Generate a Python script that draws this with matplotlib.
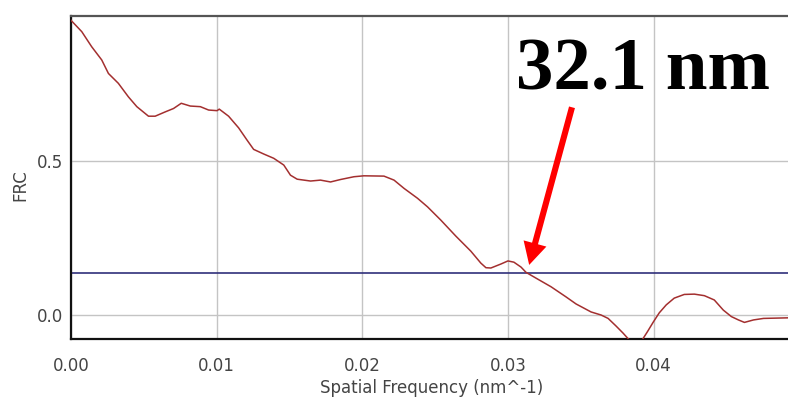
import matplotlib
matplotlib.use("Agg")
import matplotlib.pyplot as plt

# Fourier ring correlation curve
spatial_freq = [
    0.00000, 0.00074, 0.00142, 0.00211, 0.00257, 0.00325, 0.00394, 0.00452,
    0.00532, 0.00578, 0.00647, 0.00704, 0.00757, 0.00819, 0.00888, 0.00945,
    0.01003, 0.01018, 0.01082, 0.01151, 0.01209, 0.01254, 0.01323, 0.01392,
    0.01461, 0.01507, 0.01553, 0.01645, 0.01713, 0.01782, 0.01851, 0.01943,
    0.02011, 0.02149, 0.02218, 0.02287, 0.02379, 0.02448, 0.02539, 0.02642,
    0.02745, 0.02814, 0.02849, 0.02883, 0.02952, 0.03000, 0.03041, 0.03090,
    0.03124, 0.03193, 0.03296, 0.03399, 0.03468, 0.03571, 0.03640, 0.03688,
    0.03743, 0.03791, 0.03833, 0.03881, 0.03922, 0.03957, 0.03998, 0.04039,
    0.04087, 0.04142, 0.04211, 0.04280, 0.04349, 0.04417, 0.04479, 0.04534,
    0.04583, 0.04624, 0.04686, 0.04755, 0.04844, 0.04934,
]
frc = [
    0.958, 0.921, 0.872, 0.829, 0.785, 0.753, 0.709, 0.677,
    0.646, 0.646, 0.660, 0.671, 0.688, 0.679, 0.677, 0.666,
    0.664, 0.669, 0.646, 0.608, 0.568, 0.538, 0.523, 0.509,
    0.487, 0.454, 0.441, 0.435, 0.438, 0.432, 0.440, 0.449,
    0.452, 0.451, 0.438, 0.411, 0.379, 0.351, 0.308, 0.256,
    0.207, 0.168, 0.153, 0.152, 0.165, 0.175, 0.171, 0.155,
    0.138, 0.119, 0.091, 0.058, 0.035, 0.009, -0.001, -0.012,
    -0.037, -0.060, -0.082, -0.095, -0.082, -0.056, -0.024, 0.006,
    0.032, 0.054, 0.066, 0.067, 0.062, 0.048, 0.015, -0.006,
    -0.017, -0.025, -0.017, -0.012, -0.011, -0.010,
]
threshold = 0.137
resolution_label = "32.1 nm"
x_ticks = [0.00, 0.01, 0.02, 0.03, 0.04]
x_tick_labels = ["0.00", "0.01", "0.02", "0.03", "0.04"]
y_ticks = [0.0, 0.5]
y_tick_labels = ["0.0", "0.5"]

W, H = 788, 399
fig = plt.figure(figsize=(W / 100, H / 100), dpi=100)
ax = fig.add_axes([71 / W, 1 - 339 / H, 1 - 71 / W + 0.002, (339 - 16) / H])

ax.set_xlim(0, 0.04934)
ax.set_ylim(-0.079, 0.972)

ax.grid(True, color="#c4c4c4", lw=1.0)
ax.set_axisbelow(True)

ax.axhline(threshold, color="#30307a", lw=1.2, zorder=2)
ax.plot(spatial_freq, frc, color="#a32f2f", lw=1.1, zorder=3)

ax.set_xticks(x_ticks)
ax.set_xticklabels(x_tick_labels)
ax.set_yticks(y_ticks)
ax.set_yticklabels(y_tick_labels)
ax.tick_params(axis="both", length=0, labelsize=12, labelcolor="#444444")
ax.tick_params(axis="x", pad=13)
ax.tick_params(axis="y", pad=6)

for side in ("left", "bottom"):
    ax.spines[side].set_color("#111111")
    ax.spines[side].set_linewidth(1.6)
ax.spines["top"].set_color("#555555")
ax.spines["top"].set_linewidth(1.6)
ax.spines["right"].set_visible(False)

fig.text(432 / W, 1 - 388 / H, "Spatial Frequency (nm^-1)", fontsize=12,
         color="#444444", ha="center", va="center")
fig.text(20 / W, 1 - 185.5 / H, "FRC", fontsize=12, color="#444444",
         rotation=90, ha="center", va="center")

# resolution annotation
fig.text(516 / W, 1 - 90 / H, resolution_label, fontsize=54,
         family="Liberation Serif", weight="bold", color="black",
         ha="left", va="baseline")
ax.annotate("", xy=(0.03146, 0.162), xytext=(0.0344, 0.675),
            arrowprops=dict(arrowstyle="simple,head_length=0.8,head_width=0.85,tail_width=0.22",
                            mutation_scale=20, color="#ff0000", lw=0,
                            shrinkA=0, shrinkB=0),
            annotation_clip=False, zorder=5)

fig.savefig("out.png", dpi=100)
